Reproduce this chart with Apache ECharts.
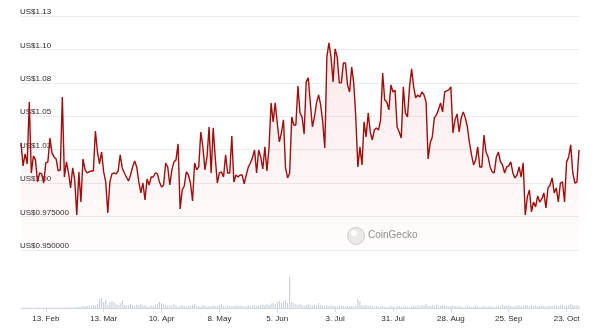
<!DOCTYPE html>
<html><head><meta charset="utf-8">
<script src="https://cdn.jsdelivr.net/npm/echarts@6/dist/echarts.min.js"></script>
<style>html,body{margin:0;padding:0;background:#fff}#c{width:600px;height:332px}</style>
</head><body><div id="c"></div>
<script>
const startDate = [2023, 1, 1]; // 1 Feb 2023, one value per day
const prices = [
1.0301,1.0129,1.0218,1.0144,1.0607,1.0076,1.0204,1.0174,1.0009,1.0076,
1.0069,1.0001,1.0151,1.0159,1.0338,1.0226,1.0196,1.0181,1.0091,1.0099,
1.0645,1.0046,1.0159,1.0076,0.9964,1.0114,1.0024,0.9762,1.0084,0.9859,
1.0181,1.0099,1.0076,1.0084,1.0091,1.0091,1.0390,1.0233,1.0144,1.0233,
1.0084,1.0009,0.9777,1.0009,1.0069,1.0076,1.0069,1.0091,1.0211,1.0114,
1.0076,1.0046,1.0016,1.0061,1.0121,1.0166,1.0121,1.0009,0.9927,1.0001,
0.9874,1.0031,0.9986,1.0046,1.0046,1.0076,1.0069,1.0009,0.9971,0.9986,
1.0151,1.0121,0.9986,1.0099,1.0159,1.0174,1.0293,0.9807,0.9949,0.9979,
1.0084,1.0061,1.0001,0.9867,1.0151,1.0099,
1.0121,1.0383,1.0271,1.0099,1.0196,1.0420,1.0076,1.0413,1.0189,1.0001,
1.0076,1.0084,1.0046,1.0211,1.0076,1.0076,1.0353,1.0009,1.0061,1.0046,
1.0061,1.0061,0.9994,1.0061,1.0121,1.0151,1.0189,1.0248,1.0076,1.0248,
1.0196,1.0106,1.0271,1.0091,1.0263,1.0600,1.0458,1.0600,1.0450,1.0308,
1.0375,1.0473,1.0114,1.0039,1.0076,1.0495,1.0435,1.0435,1.0727,1.0525,
1.0495,1.0368,1.0757,1.0787,1.0600,1.0420,1.0495,1.0600,1.0660,1.0585,
1.0458,1.0263,
1.0944,1.1049,1.0944,1.0757,1.1004,1.0944,1.0750,1.0750,1.0899,1.0899,
1.0735,1.0682,1.0869,1.0750,1.0495,1.0121,1.0271,1.0136,1.0458,1.0345,
1.0525,1.0383,1.0323,1.0398,1.0413,1.0398,1.0473,1.0824,1.0622,1.0607,
1.0548,1.0735,1.0682,1.0697,1.0420,1.0383,1.0338,1.0720,1.0525,1.0495,
1.0720,1.0854,1.0720,1.0637,1.0660,1.0645,1.0682,1.0660,1.0607,
1.0181,1.0301,1.0345,1.0488,1.0510,1.0548,1.0600,1.0533,1.0682,1.0690,
1.0697,1.0720,1.0375,1.0473,1.0518,1.0383,1.0488,1.0533,1.0488,1.0420,
1.0301,1.0211,1.0136,1.0174,1.0271,1.0121,1.0121,1.0360,1.0233,1.0196,
1.0121,1.0084,1.0076,1.0196,1.0233,1.0159,1.0136,1.0076,1.0121,1.0129,
1.0159,1.0076,1.0039,1.0061,1.0121,1.0046,1.0151,0.9762,0.9897,0.9949,
0.9785,0.9859,0.9822,0.9904,0.9859,0.9882,0.9927,0.9815,0.9964,0.9986,
1.0039,0.9927,0.9964,0.9859,1.0001,1.0009,0.9859,1.0159,1.0196,1.0286,
1.0076,1.0001,1.0009,1.0248
];
const volumes = [
0.3,0.4,0.3,0.5,0.3,0.4,0.3,0.3,0.5,0.4,0.3,0.4,0.3,0.5,0.4,0.3,0.6,0.4,0.3,0.5,0.4,0.6,0.5,0.4,0.7,0.5,0.6,
1,1.5,1,2,1.5,2,2.5,2,3,2.5,
4,9,10,6,8,3,6,7,6,4,3,5,8,3,
3,2.5,4,3,2,3,2.5,4,2,3,2,1.5,2.5,2,3,4,6,5,4,3,
2,3,2,4,2.5,1.5,2,3,2,1.5,2,2.5,3,4,2,2,1.5,3,2,1.5,
2,1.5,3,2,2,3,4,2,1.5,2.5,2,1.5,2,3,2,2.5,2,1.5,2,2.5,
2,2.5,3,2,2.5,3,3.5,3,4,3,4.5,5,4,6,7,5,6,8,5,31,
6,5,4,3,4,3,2,3,4,2.5,2,3,2.5,5,3,2.5,2,3,2,2.5,
2,2,1.5,2,2.5,2,1.5,2,1.5,2,1.5,2,9,7,2.5,2,3,2,2.5,2,
1.5,2,1,1.5,2,1.5,1,1.5,2,1.5,1,1.5,2,1.5,1,2,1.5,1,1.5,2,
1.5,2.5,2,3,2.5,4,2,2.5,3,2,3.5,2.5,2,3,2.5,2,1.5,2,2.5,2,
1.5,2,1.5,1,1.5,2,1.5,1,1.5,2,1.5,1,1.5,2,1,1.5,2,1.5,1,1.5,
2,1.5,3,2,2.5,3,2,1.5,2,2.5,3,2,2.5,3,2.5,2,3,2,2.5,2,
2,2.5,2,1.5,2,2.5,2,3,2.5,2,2.5,3,2,2.5,3,4,3,2.5,3,2
];
const yTickLabels = ['US$0.950000','US$0.975000','US$1.00','US$1.03','US$1.05','US$1.08','US$1.10','US$1.13'];
const xTickDates = ['2023-02-13','2023-03-13','2023-04-10','2023-05-08','2023-06-05','2023-07-03','2023-07-31','2023-08-28','2023-09-25','2023-10-23'];
const xTickLabels = ['13. Feb','13. Mar','10. Apr','8. May','5. Jun','3. Jul','31. Jul','28. Aug','25. Sep','23. Oct'];

const dates = [];
for (let i = 0; i < prices.length; i++) {
  const d = new Date(Date.UTC(startDate[0], startDate[1], startDate[2] + i));
  dates.push(d.toISOString().slice(0, 10));
}
const isTick = (idx, val) => xTickDates.indexOf(val) >= 0;
const font = "'Liberation Sans', Arial, sans-serif";

const chart = echarts.init(document.getElementById('c'), null, {renderer: 'canvas'});
chart.setOption({
  animation: false,
  backgroundColor: '#fff',
  grid: [
    {left: 21, right: 21, top: 16, height: 234},
    {left: 21, right: 21, top: 270, height: 38}
  ],
  xAxis: [
    {type: 'category', gridIndex: 0, data: dates, boundaryGap: false, show: false},
    {type: 'category', gridIndex: 1, data: dates, boundaryGap: false,
     axisLine: {lineStyle: {color: '#d3dae6', width: 1}},
     axisTick: {show: true, interval: isTick, length: 4, lineStyle: {color: '#d3dae6'}},
     axisLabel: {interval: isTick, margin: 7, fontSize: 8, color: '#2b2b2b', fontFamily: font,
       formatter: v => { const k = xTickDates.indexOf(v); return k >= 0 ? xTickLabels[k] : ''; }},
     splitLine: {show: false}}
  ],
  yAxis: [
    {type: 'value', gridIndex: 0, min: 0.95, max: 1.125, interval: 0.025,
     axisLine: {show: false}, axisTick: {show: false},
     splitLine: {lineStyle: {color: '#ececec', width: 1}},
     axisLabel: {inside: true, margin: -1, showMinLabel: true, showMaxLabel: true,
       verticalAlign: 'bottom', lineHeight: 8, fontSize: 8, color: '#2b2b2b', fontFamily: font,
       formatter: v => yTickLabels[Math.round((v - 0.95) / 0.025)]}},
    {type: 'value', gridIndex: 1, min: 0, max: 38, show: false}
  ],
  graphic: [
    {type: 'circle', left: 347, top: 227, shape: {r: 8.5},
     style: {fill: '#ececec', stroke: '#cfcfcf', lineWidth: 1}, z: 1},
    {type: 'circle', left: 351, top: 230, shape: {r: 3},
     style: {fill: '#fff'}, z: 1},
    {type: 'text', left: 368, top: 230,
     style: {text: 'CoinGecko', fill: '#8f8f8f', fontSize: 10, fontFamily: font}, z: 1}
  ],
  series: [
    {type: 'line', xAxisIndex: 0, yAxisIndex: 0, data: prices, symbol: 'none', smooth: false,
     lineStyle: {color: '#a00d0d', width: 1.4},
     areaStyle: {color: new echarts.graphic.LinearGradient(0, 0, 0, 1, [
       {offset: 0, color: 'rgba(225,70,70,0.17)'},
       {offset: 1, color: 'rgba(225,70,70,0.02)'}])},
     z: 3},
    {type: 'bar', xAxisIndex: 1, yAxisIndex: 1, data: volumes, barWidth: 1,
     itemStyle: {color: '#c2cad6'}}
  ]
});
</script>
</body></html>
